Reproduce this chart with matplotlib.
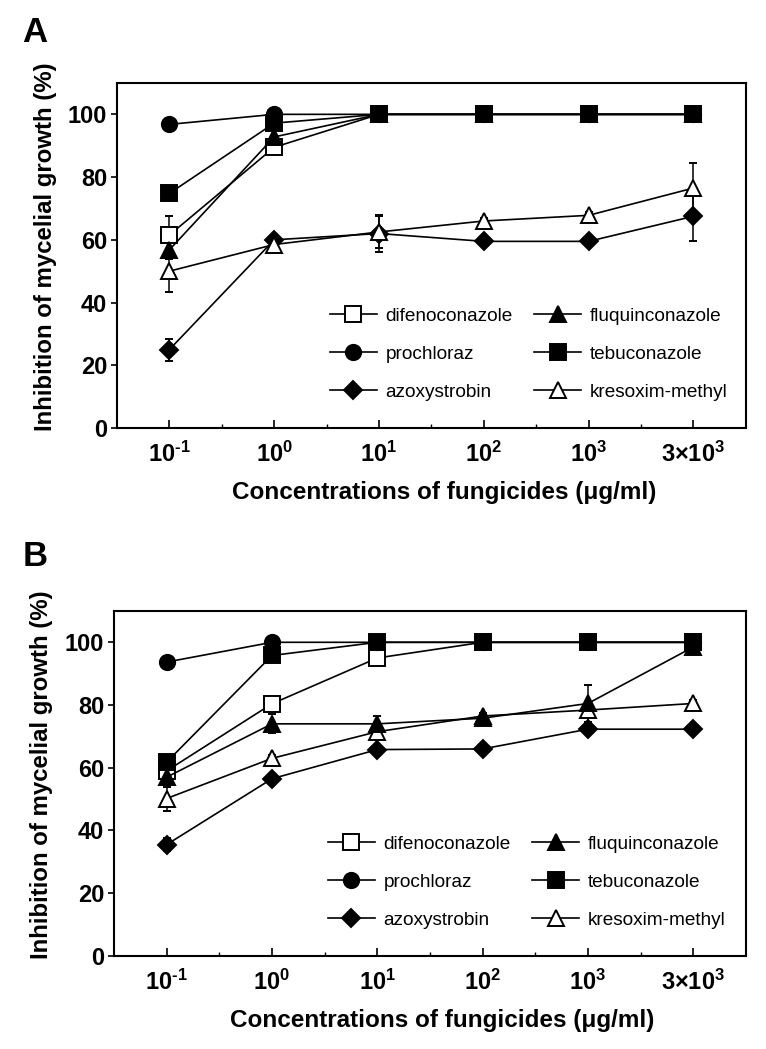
import numpy as np
import matplotlib
matplotlib.use('Agg')
import matplotlib.pyplot as plt
from matplotlib.ticker import FixedLocator

plt.rcParams['font.family'] = ['Liberation Sans', 'DejaVu Sans']
plt.rcParams['mathtext.fontset'] = 'custom'
plt.rcParams['mathtext.rm'] = 'Liberation Sans:bold'
plt.rcParams['mathtext.bf'] = 'Liberation Sans:bold'

# Concentraciones (etiquetas del eje x)
concentraciones = [r'$\mathbf{10^{\text{-}1}}$', r'$\mathbf{10^{0}}$', r'$\mathbf{10^{1}}$',
                   r'$\mathbf{10^{2}}$', r'$\mathbf{10^{3}}$', r'$\mathbf{3{\times}10^{3}}$']
fungicidas = ['difenoconazole', 'prochloraz', 'azoxystrobin',
              'fluquinconazole', 'tebuconazole', 'kresoxim-methyl']

# Panel A
a_difeno = [61.5, 89.5, 100, 100, 100, 100]
a_prochloraz = [96.8, 100, 100, 100, 100, 100]
a_azoxy = [25.0, 60.0, 62.0, 59.5, 59.5, 67.5]
a_fluquin = [56.8, 92.8, 100, 100, 100, 100]
a_tebucon = [74.8, 97.2, 100, 100, 100, 100]
a_kresoxim = [50.0, 58.5, 62.5, 66.0, 67.8, 76.5]

a_err_difeno = [6.0, 1.5, 0, 0, 0, 0]
a_err_prochloraz = [2.0, 0, 0, 0, 0, 0]
a_err_azoxy = [3.5, 0, 6.0, 0, 0, 8.0]
a_err_fluquin = [3.0, 0, 0, 0, 0, 0]
a_err_tebucon = [0, 0, 0, 0, 0, 0]
a_err_kresoxim = [6.5, 1.0, 5.0, 1.0, 1.0, 8.0]

# Panel B
b_difeno = [59.0, 80.4, 95.0, 100, 100, 100]
b_prochloraz = [93.7, 100, 100, 100, 100, 100]
b_azoxy = [35.5, 56.5, 65.8, 66.0, 72.3, 72.3]
b_fluquin = [57.0, 74.0, 74.0, 75.8, 80.5, 98.5]
b_tebucon = [61.8, 95.8, 100, 100, 100, 100]
b_kresoxim = [50.2, 63.0, 71.5, 76.5, 78.4, 80.5]

b_err_difeno = [2.0, 2.0, 1.0, 0, 0, 0]
b_err_prochloraz = [1.0, 0, 0, 0, 0, 0]
b_err_azoxy = [2.0, 1.0, 1.0, 0, 0, 0]
b_err_fluquin = [3.0, 3.0, 2.5, 1.0, 6.0, 0]
b_err_tebucon = [2.0, 0, 0, 0, 0, 0]
b_err_kresoxim = [4.0, 1.0, 1.0, 1.0, 1.0, 1.0]

estilos = {
    'difenoconazole': dict(marker='s', mfc='white'),
    'prochloraz': dict(marker='o', mfc='black'),
    'azoxystrobin': dict(marker='D', mfc='black', ms=9),
    'fluquinconazole': dict(marker='^', mfc='black'),
    'tebuconazole': dict(marker='s', mfc='black'),
    'kresoxim-methyl': dict(marker='^', mfc='white'),
}


def graficar(ax, series, errores):
    x = np.arange(1, len(concentraciones) + 1)
    orden = [0, 2, 5, 3, 1, 4]
    handles = {}
    for i in orden:
        nombre = fungicidas[i]
        st = dict(ms=11)
        st.update(estilos[nombre])
        h = ax.errorbar(x, series[i], yerr=errores[i], color='black', lw=1.2,
                        elinewidth=1.1, capsize=3, capthick=1.1, mec='black',
                        mew=1.4, label=nombre, **st)
        handles[nombre] = h[0]
    ax.set_xlim(0.5, 6.5)
    ax.set_ylim(0, 110)
    ax.set_yticks(np.arange(0, 101, 20))
    ax.set_xticks(x)
    ax.set_xticklabels(concentraciones)
    ax.xaxis.set_minor_locator(FixedLocator(x[:-1] + 0.5))
    ax.tick_params(axis='x', which='major', direction='in', length=6, width=1.2,
                   labelsize=17, pad=10)
    ax.tick_params(axis='x', which='minor', direction='in', length=3, width=1.0)
    ax.tick_params(axis='y', direction='out', length=4, width=1.2, labelsize=17, pad=3)
    for lab in ax.get_yticklabels():
        lab.set_fontweight('bold')
    for s in ax.spines.values():
        s.set_linewidth(1.5)
    ax.set_xlabel('Concentrations of fungicides (μg/ml)', fontsize=17.5,
                  fontweight='bold')
    ax.set_ylabel('Inhibition of mycelial growth (%)', fontsize=17.3,
                  fontweight='bold')
    ax.xaxis.set_label_coords(0.52, -0.154)
    ax.yaxis.set_label_coords(-0.096, 0.525)
    hs = [handles[n] for n in fungicidas]
    ax.legend(hs, fungicidas, ncol=2, frameon=False, fontsize=13.7,
              loc='upper left', bbox_to_anchor=(0.338, 0.35),
              handlelength=2.5, handletextpad=0.45, columnspacing=1.1,
              labelspacing=1.1, borderpad=0, borderaxespad=0)


fig = plt.figure(figsize=(7.66, 10.49), dpi=100)
ax1 = fig.add_axes([0.1527, 0.592, 0.821, 0.3289])
ax2 = fig.add_axes([0.1488, 0.0887, 0.825, 0.3289])

graficar(ax1, [a_difeno, a_prochloraz, a_azoxy, a_fluquin, a_tebucon, a_kresoxim],
         [a_err_difeno, a_err_prochloraz, a_err_azoxy, a_err_fluquin, a_err_tebucon, a_err_kresoxim])
graficar(ax2, [b_difeno, b_prochloraz, b_azoxy, b_fluquin, b_tebucon, b_kresoxim],
         [b_err_difeno, b_err_prochloraz, b_err_azoxy, b_err_fluquin, b_err_tebucon, b_err_kresoxim])

fig.text(0.029, 1 - 33 / 1049, 'A', fontsize=25, fontweight='bold', va='center')
fig.text(0.029, 1 - 556 / 1049, 'B', fontsize=25, fontweight='bold', va='center')

fig.savefig('out.png', dpi=100)
